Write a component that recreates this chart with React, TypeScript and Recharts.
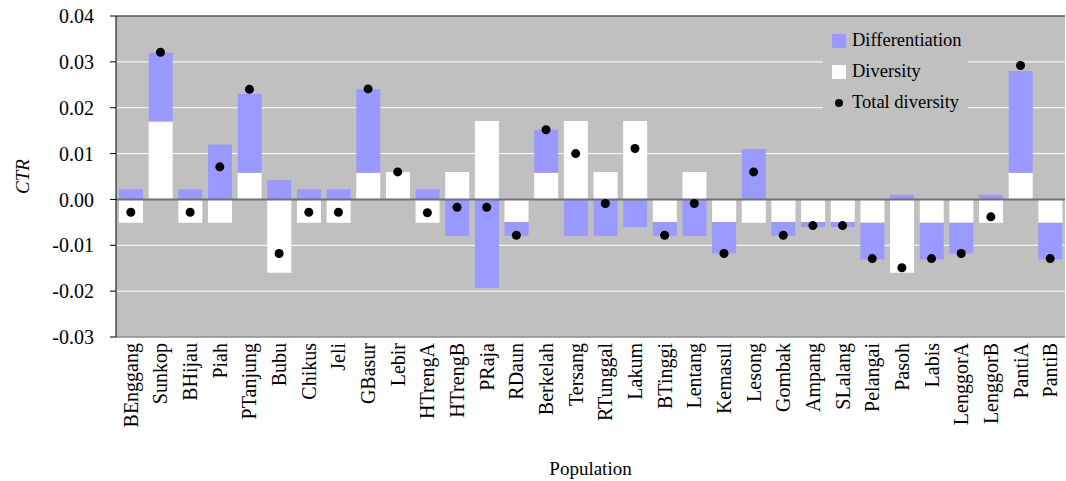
import React from 'react';
import {
  ComposedChart,
  Bar,
  Line,
  XAxis,
  YAxis,
  CartesianGrid,
  ReferenceLine,
} from 'recharts';

const categories = [
  'BEnggang', 'Sunkop', 'BHijau', 'Piah', 'PTanjung', 'Bubu', 'Chikus', 'Jeli',
  'GBasur', 'Lebir', 'HTrengA', 'HTrengB', 'PRaja', 'RDaun', 'Berkelah', 'Tersang',
  'RTunggal', 'Lakum', 'BTinggi', 'Lentang', 'Kemasul', 'Lesong', 'Gombak', 'Ampang',
  'SLalang', 'Pelangai', 'Pasoh', 'Labis', 'LenggorA', 'LenggorB', 'PantiA', 'PantiB',
];

const diversity = [
  -0.0051, 0.017, -0.0051, -0.0051, 0.0058, -0.016, -0.0051, -0.0051,
  0.0058, 0.006, -0.0051, 0.006, 0.0171, -0.0049, 0.0058, 0.0171,
  0.006, 0.0171, -0.0049, 0.006, -0.0049, -0.0051, -0.0049, -0.0049,
  -0.0049, -0.0051, -0.016, -0.0051, -0.0051, -0.0051, 0.0058, -0.0051,
];

const differentiation = [
  0.0022, 0.015, 0.0022, 0.012, 0.0172, 0.0042, 0.0022, 0.0022,
  0.0182, 0, 0.0022, -0.0079, -0.0193, -0.003, 0.0094, -0.0079,
  -0.0079, -0.006, -0.003, -0.0079, -0.0069, 0.011, -0.003, -0.0011,
  -0.0011, -0.008, 0.001, -0.008, -0.0067, 0.001, 0.0222, -0.008,
];

const totalDiversity = [
  -0.0028, 0.0321, -0.0028, 0.0071, 0.024, -0.0118, -0.0028, -0.0028,
  0.0241, 0.006, -0.0029, -0.0017, -0.0017, -0.0078, 0.0152, 0.01,
  -0.0009, 0.0111, -0.0078, -0.0009, -0.0118, 0.006, -0.0078, -0.0057,
  -0.0057, -0.0129, -0.0149, -0.0129, -0.0118, -0.0038, 0.0292, -0.0129,
];

const yTicks = [-0.03, -0.02, -0.01, 0, 0.01, 0.02, 0.03, 0.04];

const legendItems = ['Differentiation', 'Diversity', 'Total diversity'];

const data = categories.map((name, i) => ({
  name,
  diversity: diversity[i],
  differentiation: differentiation[i],
  total: totalDiversity[i],
}));

const FONT = '"Liberation Serif", "Times New Roman", serif';
const BLUE = '#9999FF';
const GRAY = '#C0C0C0';

const XTick = (props: any) => {
  const { x, y, payload } = props;
  return (
    <g transform={`translate(${x},${y + 6})`}>
      <text
        x={0}
        y={0}
        dy="0.35em"
        textAnchor="end"
        transform="rotate(-90)"
        fontFamily={FONT}
        fontSize={20}
        fill="#000"
      >
        {payload.value}
      </text>
    </g>
  );
};

const LegendBox = () => {
  const row: React.CSSProperties = {
    height: 31,
    display: 'flex',
    alignItems: 'center',
    fontFamily: FONT,
    fontSize: 18.5,
    color: '#000',
    whiteSpace: 'nowrap',
  };
  const marker: React.CSSProperties = {
    width: 14,
    height: 14,
    marginRight: 6,
    display: 'flex',
    alignItems: 'center',
    justifyContent: 'center',
    flexShrink: 0,
  };
  const markers = [
    <div key="m0" style={{ ...marker, background: BLUE }} />,
    <div key="m1" style={{ ...marker, background: '#FFFFFF' }} />,
    <div key="m2" style={marker}>
      <div style={{ width: 8, height: 8, borderRadius: 4, background: '#000' }} />
    </div>,
  ];
  return (
    <div
      style={{
        position: 'absolute',
        left: 823,
        top: 25,
        width: 145,
        background: GRAY,
        paddingLeft: 9,
        boxSizing: 'border-box',
      }}
    >
      {legendItems.map((label, i) => (
        <div key={label} style={row}>
          {markers[i]}
          <span>{label}</span>
        </div>
      ))}
    </div>
  );
};

const Dot = (props: any) => {
  const { cx, cy } = props;
  if (cx == null || cy == null) return null;
  return <circle cx={cx} cy={cy} r={4.5} fill="#000" />;
};

export default function App() {
  return (
    <div style={{ position: 'absolute', left: 0, top: 0, width: 1066, height: 481, background: '#fff' }}>
      <ComposedChart
        width={1066}
        height={481}
        data={data}
        stackOffset="sign"
        margin={{ top: 16, right: 1, bottom: 0, left: 0 }}
      >
        <CartesianGrid horizontal vertical={false} stroke="#FFFFFF" fill={GRAY} />
        <XAxis
          dataKey="name"
          interval={0}
          tickLine={false}
          tickSize={0}
          tickMargin={0}
          axisLine={{ stroke: '#555555' }}
          height={144}
          tick={<XTick />}
          label={{
            value: 'Population',
            position: 'insideBottom',
            offset: 6,
            fontFamily: FONT,
            fontSize: 19,
            fill: '#000',
          }}
        />
        <YAxis
          domain={[-0.03, 0.04]}
          ticks={yTicks}
          interval={0}
          allowDataOverflow
          tickFormatter={(v: number) => v.toFixed(2)}
          axisLine={{ stroke: '#000' }}
          tickLine={{ stroke: '#000' }}
          tickSize={6}
          tickMargin={16}
          width={116}
          tick={{ fontFamily: FONT, fontSize: 20, fill: '#000' }}
          label={{
            content: (p: any) => {
              const vb = p.viewBox || { x: 0, y: 16, width: 116, height: 321 };
              const cx = 22;
              const cy = vb.y + vb.height / 2;
              return (
                <text
                  x={cx}
                  y={cy}
                  dy="0.35em"
                  textAnchor="middle"
                  transform={`rotate(-90, ${cx}, ${cy})`}
                  fontFamily={FONT}
                  fontStyle="italic"
                  fontSize={19}
                  fill="#000"
                >
                  CTR
                </text>
              );
            },
          }}
        />
        <Bar dataKey="diversity" name="Diversity" stackId="a" fill="#FFFFFF" barSize={24} isAnimationActive={false} />
        <Bar dataKey="differentiation" name="Differentiation" stackId="a" fill={BLUE} barSize={24} isAnimationActive={false} />
        <ReferenceLine y={0} stroke="#707070" strokeWidth={2} />
        <ReferenceLine y={0.04} stroke="#000" strokeWidth={1} />
        <Line
          dataKey="total"
          name="Total diversity"
          stroke="none"
          dot={<Dot />}
          activeDot={false}
          isAnimationActive={false}
        />
      </ComposedChart>
      <LegendBox />
    </div>
  );
}
